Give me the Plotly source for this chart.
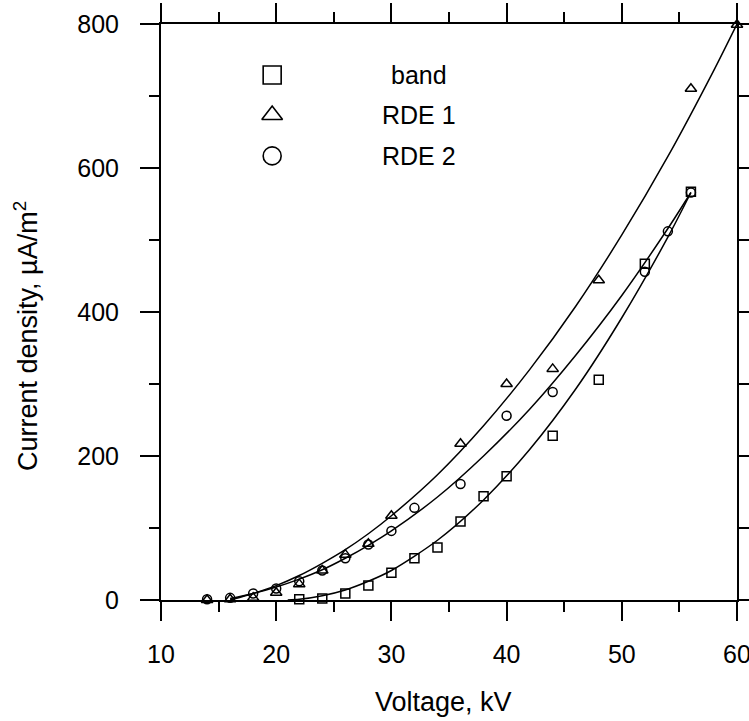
import plotly.graph_objects as go

# ---- data ----
band_x = [22, 24, 26, 28, 30, 32, 34, 36, 38, 40, 44, 48, 52, 56]
band_y = [1, 2, 9, 20, 38, 58, 73, 109, 144, 172, 228, 306, 467, 567]

rde1_x = [14, 16, 18, 20, 22, 24, 26, 28, 30, 36, 40, 44, 48, 56, 60]
rde1_y = [0, 1, 3, 10, 22, 41, 63, 78, 117, 217, 300, 321, 444, 710, 799]

rde2_x = [14, 16, 18, 20, 22, 24, 26, 28, 30, 32, 36, 40, 44, 52, 54, 56]
rde2_y = [1, 3, 9, 16, 26, 41, 58, 77, 96, 128, 161, 256, 289, 456, 512, 566]

# fitted curves
band_fit_x = [21, 22, 24, 26, 28, 30, 34, 38, 42, 46, 50, 54, 56]
band_fit_y = [0, 1, 6, 14, 26, 41, 83, 139, 209, 293, 392, 504, 566]
rde1_fit_x = [16, 18, 20, 22, 24, 26, 28, 30, 34, 38, 42, 46, 50, 54, 58, 60]
rde1_fit_y = [0, 9, 20, 34, 51, 70, 92, 117, 174, 242, 320, 408, 507, 616, 736, 800]
rde2_fit_x = [16, 18, 20, 22, 24, 26, 28, 30, 34, 38, 42, 46, 50, 54, 56]
rde2_fit_y = [2, 9, 18, 29, 42, 58, 76, 96, 143, 200, 265, 340, 423, 516, 566]

series_names = ["band", "RDE 1", "RDE 2"]
x_title = "Voltage, kV"
y_title = "Current density, \u00b5A/m<sup>2</sup>"

# ---- styles / layout constants ----
FONT = "Liberation Sans, Arial, sans-serif"
W, H = 749, 721
L, R, T, B = 161, 12, 24, 121
symbols = ["square-open", "triangle-up-open", "circle-open"]
msizes = [9, 10, 9]

fig = go.Figure()

for fx, fy in [(band_fit_x, band_fit_y), (rde1_fit_x, rde1_fit_y), (rde2_fit_x, rde2_fit_y)]:
    fig.add_trace(go.Scatter(x=fx, y=fy, mode="lines", line=dict(color="black", width=1.5, shape="spline", smoothing=0.8),
                             showlegend=False, hoverinfo="skip", cliponaxis=False))

for (xs, ys), sym, ms, nm in zip([(band_x, band_y), (rde1_x, rde1_y), (rde2_x, rde2_y)], symbols, msizes, series_names):
    fig.add_trace(go.Scatter(x=xs, y=ys, mode="markers", name=nm,
                             marker=dict(symbol=sym, size=ms, color="black", line=dict(color="black", width=1.5)),
                             showlegend=False, cliponaxis=False))

# custom legend on an overlay axis (fractional positions)
leg_mx = [0.193, 0.193, 0.193]
leg_my = [0.9115, 0.842, 0.771]
leg_tx = 0.448
fig.add_trace(go.Scatter(x=leg_mx, y=leg_my, mode="markers", xaxis="x2", yaxis="y2",
                         marker=dict(symbol=symbols, size=18, color="black", line=dict(color="black", width=1.6)),
                         showlegend=False, hoverinfo="skip"))
annotations = []
for nm, yy in zip(series_names, leg_my):
    annotations.append(dict(x=leg_tx, y=yy, xref="x2", yref="y2", text=nm, showarrow=False,
                            xanchor="center", yanchor="middle", font=dict(family=FONT, size=25, color="black")))

pw = W - L - R
ph = H - T - B
annotations.append(dict(x=(443 - L) / pw, y=(600 - 702) / ph, xref="paper", yref="paper", text=x_title,
                        showarrow=False, xanchor="center", yanchor="middle",
                        font=dict(family=FONT, size=27, color="black")))
annotations.append(dict(x=(26 - L) / pw, y=(600 - 336) / ph, xref="paper", yref="paper", text=y_title,
                        textangle=-90, showarrow=False, xanchor="center", yanchor="middle",
                        font=dict(family=FONT, size=27, color="black")))

axis_common = dict(showgrid=False, zeroline=False, showline=True, linewidth=2, linecolor="black",
                   mirror="allticks", ticks="outside", ticklen=19, tickwidth=2, tickcolor="black",
                   automargin=False, ticklabeloverflow="allow",
                   tickfont=dict(family=FONT, size=25, color="black"))

fig.update_layout(
    width=W, height=H, margin=dict(l=L, r=R, t=T, b=B, pad=0, autoexpand=False),
    paper_bgcolor="white", plot_bgcolor="white", showlegend=False,
    xaxis=dict(range=[10, 60], dtick=10, tick0=10, ticklabelstandoff=12,
               minor=dict(dtick=5, ticklen=10, tickwidth=2, tickcolor="black", ticks="outside"), **axis_common),
    yaxis=dict(range=[0, 800], dtick=200, tick0=0, ticklabelstandoff=16,
               minor=dict(dtick=100, ticklen=10, tickwidth=2, tickcolor="black", ticks="outside"), **axis_common),
    xaxis2=dict(overlaying="x", range=[0, 1], visible=False, anchor="y2"),
    yaxis2=dict(overlaying="y", range=[0, 1], visible=False, anchor="x2"),
    annotations=annotations,
    font=dict(family=FONT, color="black"),
)

fig.write_html("out.html")
